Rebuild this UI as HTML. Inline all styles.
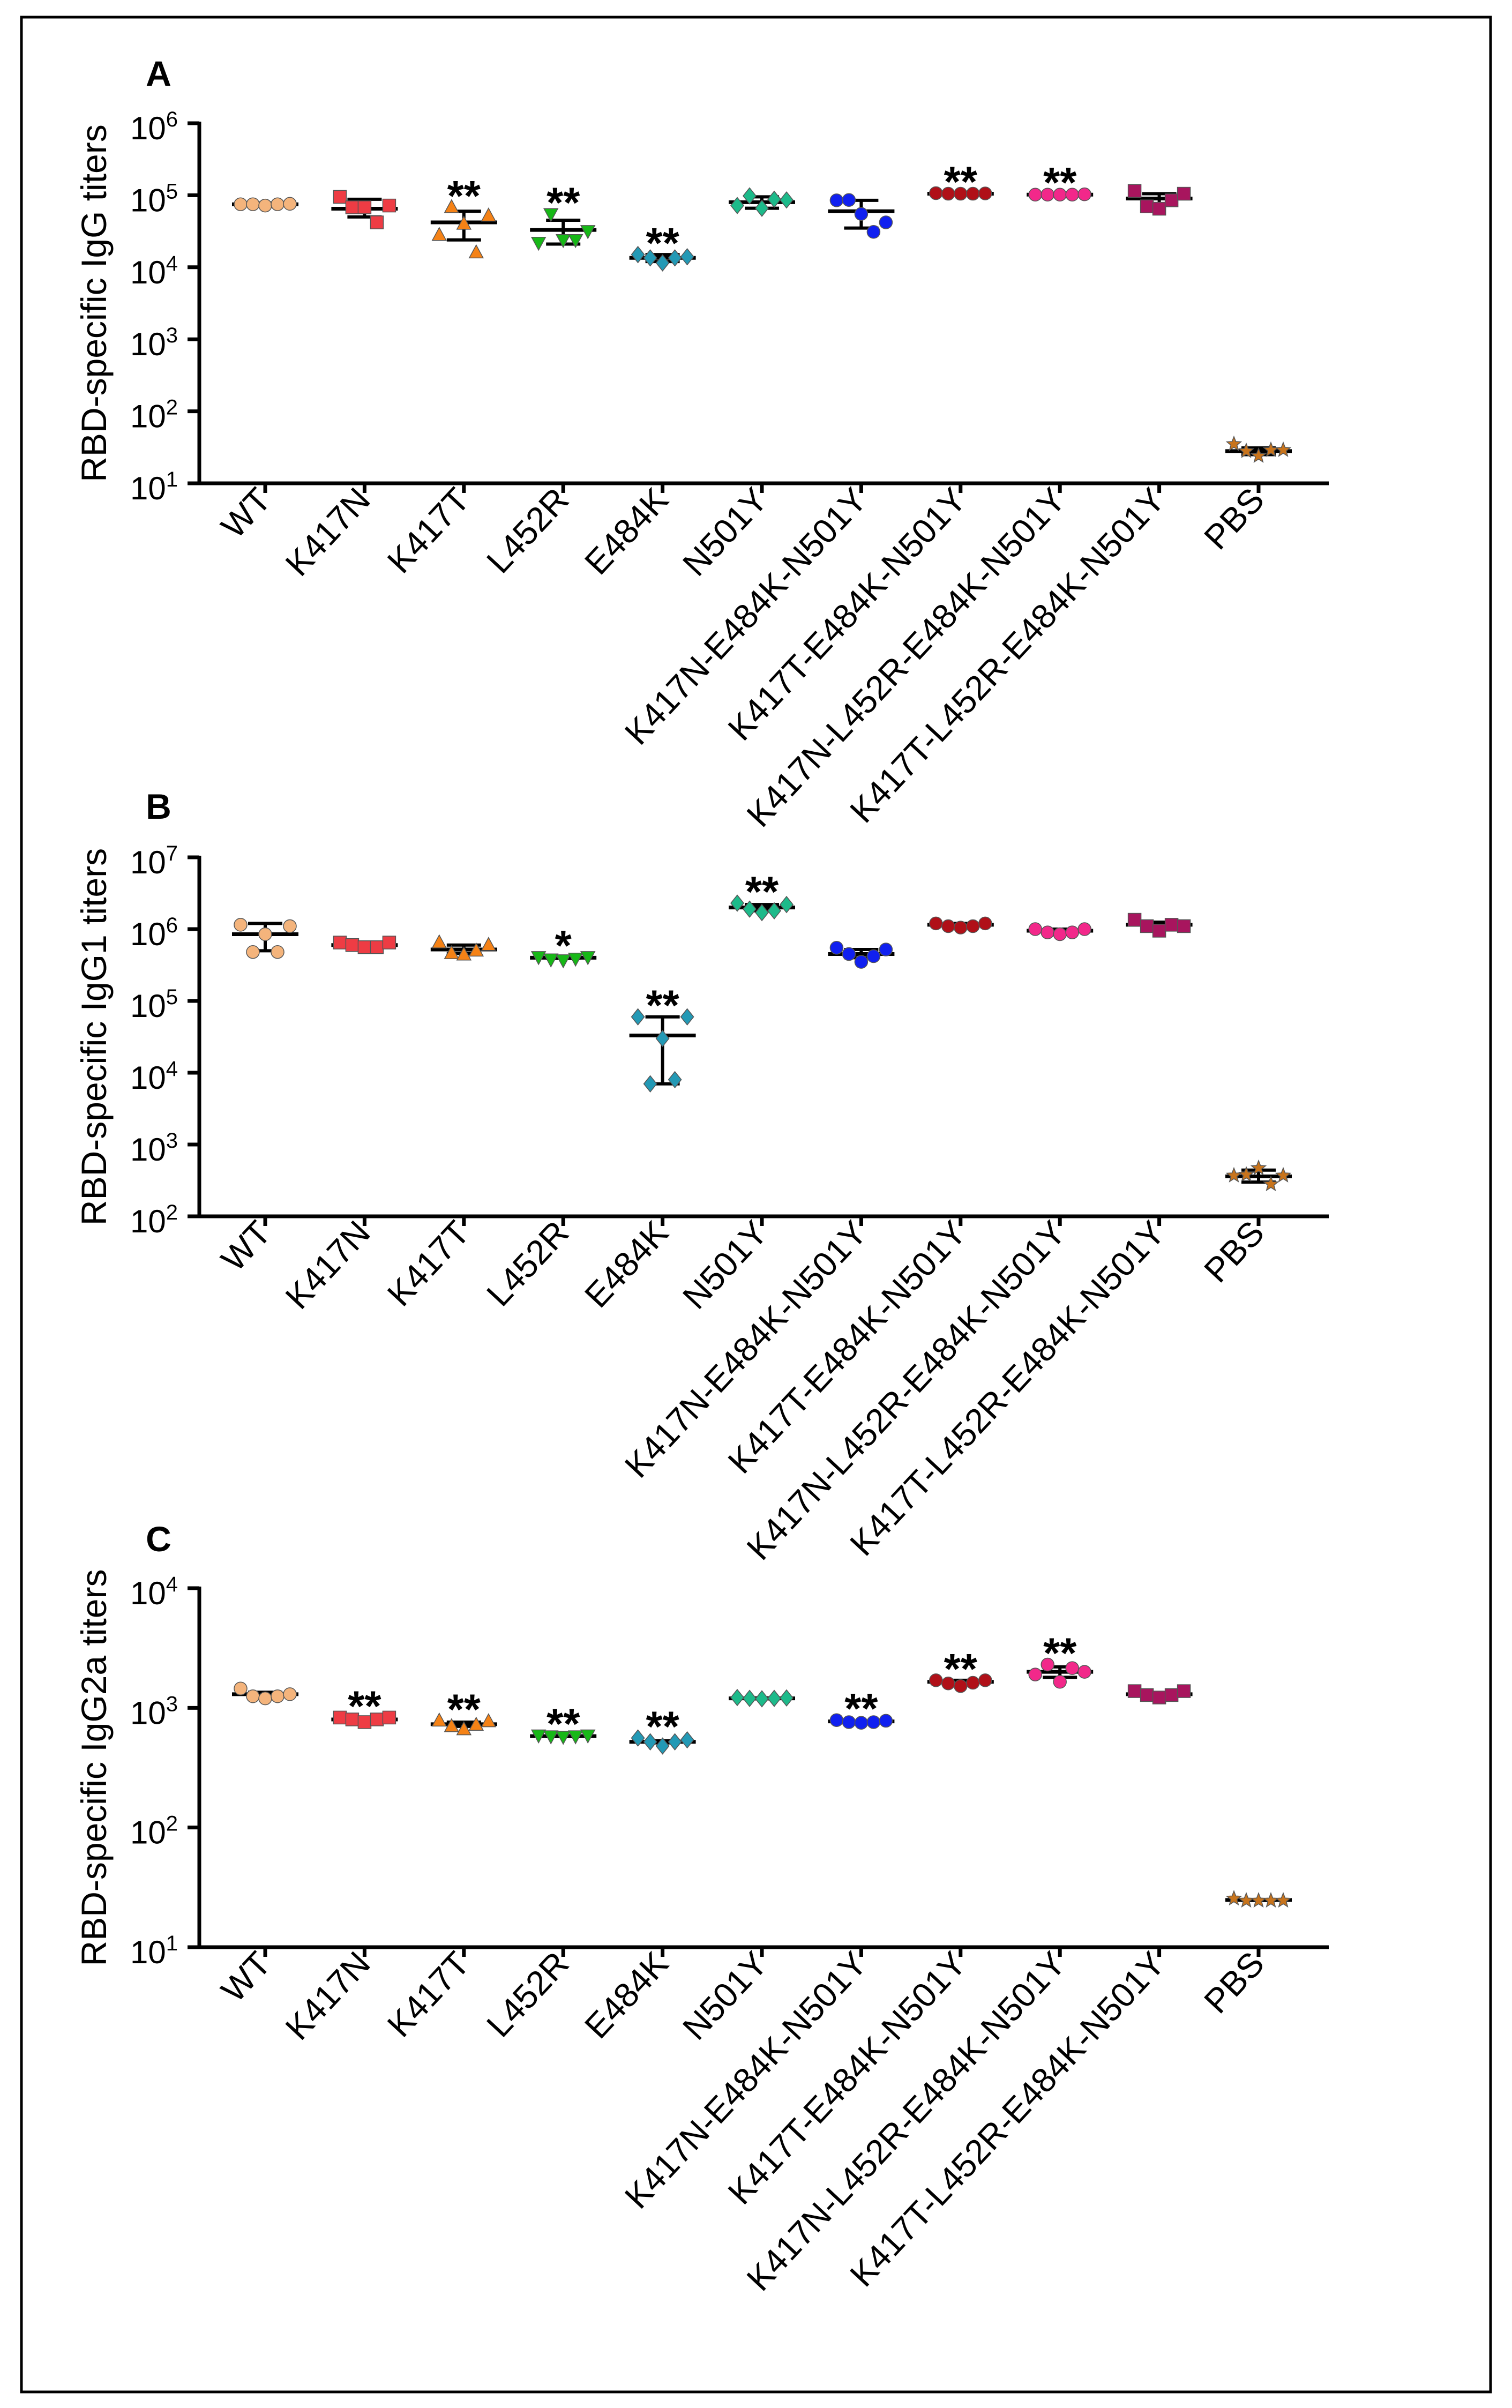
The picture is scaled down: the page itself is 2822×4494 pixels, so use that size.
<!DOCTYPE html>
<html><head><meta charset="utf-8"><style>
html,body{margin:0;padding:0;background:#fff}
svg{display:block}
text{font-family:"Liberation Sans",Arial,sans-serif;fill:#000}
</style></head><body>
<svg id="fig" width="2822" height="4494" viewBox="0 0 2822 4494" xmlns="http://www.w3.org/2000/svg">
<rect x="40" y="32" width="2742" height="4432" fill="#fff" stroke="#000" stroke-width="5"/>
</svg>
<script>
const categories=["WT","K417N","K417T","L452R","E484K","N501Y","K417N-E484K-N501Y","K417T-E484K-N501Y","K417N-L452R-E484K-N501Y","K417T-L452R-E484K-N501Y","PBS"];
const colors=["#f4b47c","#ee3c44","#f58216","#17b817","#2399b5","#1dba8a","#1020f0","#b01018","#f2288a","#a8155e","#c8741c"];
const shapes=["circle","square","tri","tridown","diamond","diamond","circle","circle","circle","square","star"];
// Panel A: IgG
const iggPoints=[[7.5e4,7.5e4,7.2e4,7.5e4,7.6e4],[9.5e4,6.8e4,6.8e4,4.2e4,7.2e4],[2.8e4,6.8e4,4e4,1.6e4,5.2e4],[2.2e4,5.5e4,2.4e4,2.4e4,3.2e4],[1.5e4,1.35e4,1.15e4,1.35e4,1.4e4],[7.2e4,9.8e4,6.6e4,8.8e4,8.6e4],[8.5e4,8.6e4,5.5e4,3.1e4,4.2e4],[1.07e5,1.05e5,1.05e5,1.05e5,1.06e5],[1.02e5,1.02e5,1.02e5,1.02e5,1.03e5],[1.15e5,7e4,6.5e4,8.5e4,1.05e5],[35,28,24,29,29]];
const iggMean=[7.5e4,6.5e4,4.2e4,3.3e4,1.35e4,8e4,6e4,1.05e5,1.02e5,9e4,28];
const iggHigh=[7.8e4,8.8e4,6e4,4.5e4,1.5e4,9.5e4,8.5e4,1.07e5,1.04e5,1.05e5,31];
const iggLow=[7.2e4,5e4,2.4e4,2.1e4,1.2e4,6.6e4,3.5e4,1.03e5,1e5,7.5e4,25];
const iggSig=["","","**","**","**","","","**","**","",""];
// Panel B: IgG1
const igg1Points=[[1.15e6,4.8e5,8.5e5,4.8e5,1.1e6],[6.5e5,6e5,5.6e5,5.6e5,6.5e5],[6.5e5,4.6e5,4.4e5,5e5,6e5],[4.1e5,3.8e5,3.7e5,3.9e5,4.1e5],[6e4,7e3,3e4,8e3,6e4],[2.3e6,1.9e6,1.7e6,1.8e6,2.2e6],[5.5e5,4.5e5,3.5e5,4.2e5,5.2e5],[1.2e6,1.1e6,1.05e6,1.1e6,1.2e6],[1e6,9e5,8.5e5,9e5,1e6],[1.35e6,1.1e6,9.5e5,1.15e6,1.1e6],[370,380,470,280,370]];
const igg1Mean=[8.5e5,6e5,5.2e5,4e5,3.3e4,2e6,4.5e5,1.15e6,9.5e5,1.15e6,360];
const igg1High=[1.2e6,6.4e5,6e5,4.1e5,6e4,2.2e6,5.2e5,1.2e6,1e6,1.25e6,440];
const igg1Low=[5e5,5.6e5,4.6e5,3.9e5,7e3,1.8e6,4e5,1.1e6,9e5,1.05e6,300];
const igg1Sig=["","","","*","**","**","","","","",""];
// Panel C: IgG2a
const igg2aPoints=[[1450,1250,1200,1250,1300],[830,800,760,800,830],[780,700,660,720,770],[590,580,575,580,590],[560,520,480,520,540],[1220,1200,1190,1200,1210],[790,760,750,760,780],[1700,1600,1520,1620,1700],[1900,2300,1650,2150,2000],[1380,1280,1220,1280,1380],[25.5,24.5,24.5,24.5,24.5]];
const igg2aMean=[1300,800,730,580,520,1200,770,1650,2000,1300,24.8];
const igg2aHigh=[1350,820,760,585,530,1210,775,1700,2200,1330,25];
const igg2aLow=[1250,780,700,575,510,1190,765,1600,1800,1270,24.6];
const igg2aSig=["","**","**","**","**","","**","**","**","",""];

const NS="http://www.w3.org/2000/svg";
const svg=document.getElementById('fig');
function mk(tag,attrs,parent){const e=document.createElementNS(NS,tag);for(const k in attrs)e.setAttribute(k,attrs[k]);(parent||svg).appendChild(e);return e;}

function drawPanel(cfg){
  const g=mk('g',{});
  
  
  const x0=372,x1=2480,cx0=495,dx=185.4;
  const yScale=v=>cfg.yBottom-(Math.log10(v)-cfg.minExp)*(cfg.yBottom-cfg.yTop)/(cfg.maxExp-cfg.minExp);
  const xScale=i=>cx0+i*dx;
  const L=mk('text',{x:296,y:cfg.letterY,'font-size':66,'font-weight':'bold','text-anchor':'middle'},g);
  L.textContent=cfg.letter;
  
  
  const yc=(cfg.yTop+cfg.yBottom)/2;
  const T=mk('text',{x:0,y:0,'font-size':66,'text-anchor':'middle',transform:`translate(198,${yc}) rotate(-90)`},g);
  T.textContent=cfg.title;
  
  
  const ya=mk('line',{x1:x0,y1:cfg.yTop-3,x2:x0,y2:cfg.yBottom,stroke:'#000','stroke-width':7},g);
  
  
  const xa=mk('line',{x1:x0-4,y1:cfg.yBottom,x2:x1,y2:cfg.yBottom,stroke:'#000','stroke-width':7},g);
  
  
  for(let e=cfg.minExp;e<=cfg.maxExp;e++){
    const y=yScale(Math.pow(10,e));
    const tk=mk('line',{x1:x0-22,y1:y,x2:x0,y2:y,stroke:'#000','stroke-width':7},g);
    
    
    const t=mk('text',{x:332,y:y+30,'font-size':60,'text-anchor':'end'},g);
    
    
    const a=document.createElementNS(NS,'tspan');a.textContent='10';t.appendChild(a);
    const b=document.createElementNS(NS,'tspan');b.setAttribute('font-size','40');b.setAttribute('dy','-24');b.textContent=String(e);t.appendChild(b);
  }
  categories.forEach((c,i)=>{
    const x=xScale(i);
    const tk=mk('line',{x1:x,y1:cfg.yBottom,x2:x,y2:cfg.yBottom+18,stroke:'#000','stroke-width':7},g);
    
    
    const t=mk('text',{x:0,y:0,'font-size':64,'text-anchor':'end',transform:`translate(${x+14},${cfg.yBottom+34}) rotate(-47)`},g);
    t.textContent=c;
    
    
  });
  categories.forEach((c,i)=>{
    const x=xScale(i);
    const grp=mk('g',{},g);
    
    
    const ym=yScale(cfg.mean[i]),yh=yScale(cfg.high[i]),yl=yScale(cfg.low[i]);
    mk('line',{x1:x,y1:yh,x2:x,y2:yl,stroke:'#000','stroke-width':6},grp);
    mk('line',{x1:x-32,y1:yh,x2:x+32,y2:yh,stroke:'#000','stroke-width':6},grp);
    mk('line',{x1:x-32,y1:yl,x2:x+32,y2:yl,stroke:'#000','stroke-width':6},grp);
    const ml=mk('line',{x1:x-62,y1:ym,x2:x+62,y2:ym,stroke:'#000','stroke-width':7},grp);
    
    
    const pts=cfg.points[i];
    let ymin=Math.min(yh,yl);
    pts.forEach((v,j)=>{
      const px=x+(j-2)*23,py=yScale(v);ymin=Math.min(ymin,py);
      const col=colors[i],r=12,sh=shapes[i];let m;
      const st={fill:col,stroke:'#555','stroke-width':1.5};
      if(sh==='circle') m=mk('circle',Object.assign({cx:px,cy:py,r:r},st),grp);
      else if(sh==='square') m=mk('rect',Object.assign({x:px-r,y:py-r,width:2*r,height:2*r},st),grp);
      else if(sh==='tri') m=mk('polygon',Object.assign({points:`${px},${py-14} ${px+13},${py+10} ${px-13},${py+10}`},st),grp);
      else if(sh==='tridown') m=mk('polygon',Object.assign({points:`${px},${py+14} ${px+13},${py-10} ${px-13},${py-10}`},st),grp);
      else if(sh==='diamond') m=mk('polygon',Object.assign({points:`${px},${py-15} ${px+12},${py} ${px},${py+15} ${px-12},${py}`},st),grp);
      else {let s='';for(let k=0;k<10;k++){const a=-Math.PI/2+k*Math.PI/5,rr=k%2?6:14;s+=`${px+rr*Math.cos(a)},${py+rr*Math.sin(a)} `;}m=mk('polygon',Object.assign({points:s},st),grp);}
      
      
    });
    if(cfg.sig[i]){
      const s=mk('text',{x:x,y:ymin-22+28,'font-size':80,'font-weight':'bold','text-anchor':'middle'},grp);
      s.textContent=cfg.sig[i];
      
      
    }
  });
}
drawPanel({id:'igg',letter:'A',letterY:160,title:'RBD-specific IgG titers',yTop:230,yBottom:902,minExp:1,maxExp:6,points:iggPoints,mean:iggMean,high:iggHigh,low:iggLow,sig:iggSig});
drawPanel({id:'igg1',letter:'B',letterY:1528,title:'RBD-specific IgG1 titers',yTop:1600,yBottom:2270,minExp:2,maxExp:7,points:igg1Points,mean:igg1Mean,high:igg1High,low:igg1Low,sig:igg1Sig});
drawPanel({id:'igg2a',letter:'C',letterY:2895,title:'RBD-specific IgG2a titers',yTop:2964,yBottom:3634,minExp:1,maxExp:4,points:igg2aPoints,mean:igg2aMean,high:igg2aHigh,low:igg2aLow,sig:igg2aSig});
</script>
</body></html>
